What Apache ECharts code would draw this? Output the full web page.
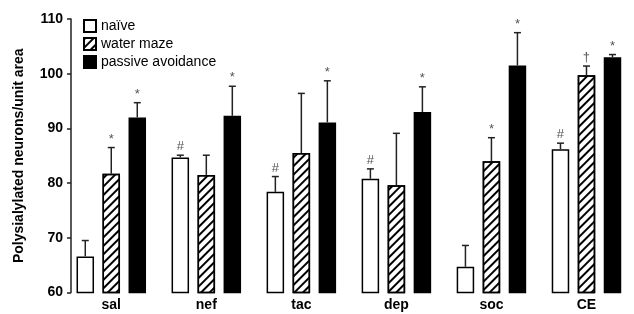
<!DOCTYPE html>
<html>
<head>
<meta charset="utf-8">
<script src="https://cdn.jsdelivr.net/npm/echarts@6/dist/echarts.min.js"></script>
<style>
  html, body { margin: 0; padding: 0; background: #fff; }
  #chart { width: 634px; height: 314px; }
</style>
</head>
<body>
<div id="chart"></div>
<script>
// groups and values
const groups = ['sal', 'nef', 'tac', 'dep', 'soc', 'CE'];
const naive = [66.6, 84.7, 78.4, 80.8, 64.7, 86.2];
const naiveErr = [2.9, 0.4, 2.8, 1.8, 3.9, 1.1];
const naiveMarks = ['', '#', '#', '#', '', '#'];
const waterMaze = [81.7, 81.5, 85.5, 79.6, 84.0, 99.7];
const waterMazeErr = [4.8, 3.6, 10.9, 9.5, 4.3, 1.7];
const waterMazeMarks = ['*', '', '', '', '*', '\u2020'];
const passive = [92.0, 92.3, 91.1, 93.0, 101.5, 103.0];
const passiveErr = [2.7, 5.4, 7.6, 4.6, 6.0, 0.5];
const passiveMarks = ['*', '*', '*', '*', '*', '*'];
const yTicks = { min: 60, max: 110, step: 10 };

const BAR_W = 17.5;
const BAR_STEP = 26; // centre-to-centre distance of bars in a group
const font = 'Liberation Sans, Arial, Helvetica, sans-serif';

const chart = echarts.init(document.getElementById('chart'), null, { renderer: 'canvas' });

function errorBars(vals, errs, marks, k) {
  return {
    type: 'custom',
    z: 5,
    silent: true,
    data: vals.map((v, i) => [i, v, v + errs[i]]),
    renderItem: (params, api) => {
      const lo = api.coord([api.value(0), api.value(1)]);
      const hi = api.coord([api.value(0), api.value(2)]);
      const x = lo[0] + (k - 1) * BAR_STEP;
      const st = { stroke: '#222', lineWidth: 1.5 };
      const children = [
        { type: 'line', shape: { x1: x, y1: lo[1], x2: x, y2: hi[1] }, style: st },
        { type: 'line', shape: { x1: x - 3.5, y1: hi[1], x2: x + 3.5, y2: hi[1] }, style: st }
      ];
      const m = marks[params.dataIndex];
      if (m) {
        children.push({
          type: 'text',
          style: {
            text: m, x: x, y: hi[1] - 2, align: 'center', verticalAlign: 'bottom',
            fill: '#555', font: '13px ' + font
          }
        });
      }
      return { type: 'group', children };
    }
  };
}

const barBase = {
  type: 'bar',
  barWidth: BAR_W,
  barGap: ((BAR_STEP - BAR_W) / BAR_W * 100).toFixed(1) + '%',
  z: 3
};

chart.setOption({
  animation: false,
  backgroundColor: '#fff',
  grid: { left: 63.75, right: -14.75, top: 19, bottom: 21.5 },
  legend: {
    orient: 'vertical',
    left: 78,
    top: 14,
    icon: 'rect',
    itemWidth: 12,
    itemHeight: 12,
    itemGap: 4,
    textStyle: { fontFamily: font, fontSize: 14, color: '#000', padding: [0, 0, 0, 0] },
    data: ['na\u00efve', 'water maze', 'passive avoidance']
  },
  xAxis: {
    type: 'category',
    data: groups,
    axisLine: { show: false },
    axisTick: { show: false },
    axisLabel: { fontFamily: font, fontWeight: 'bold', fontSize: 14, color: '#000', margin: 6 }
  },
  yAxis: {
    type: 'value',
    min: yTicks.min,
    max: yTicks.max,
    interval: yTicks.step,
    offset: -7.25,
    name: 'Polysialylated neurons/unit area',
    nameLocation: 'middle',
    nameGap: 45,
    nameTextStyle: { fontFamily: font, fontWeight: 'bold', fontSize: 14, color: '#000' },
    axisLine: { show: true, lineStyle: { color: '#222', width: 1.5 } },
    axisTick: { show: true, length: 4, lineStyle: { color: '#222', width: 1.5 } },
    splitLine: { show: false },
    axisLabel: { fontFamily: font, fontWeight: 'bold', fontSize: 14, color: '#000', margin: 8 }
  },
  series: [
    Object.assign({}, barBase, {
      name: 'na\u00efve', data: naive,
      itemStyle: { color: '#fff', borderColor: '#000', borderWidth: 1.5 }
    }),
    Object.assign({}, barBase, {
      name: 'water maze', data: waterMaze,
      itemStyle: {
        color: '#fff', borderColor: '#000', borderWidth: 1.5,
        decal: {
          symbol: 'rect', symbolSize: 1, color: '#000',
          dashArrayX: [1, 0], dashArrayY: [1.2, 3.2], rotation: -Math.PI / 4
        }
      }
    }),
    Object.assign({}, barBase, {
      name: 'passive avoidance', data: passive,
      itemStyle: { color: '#000', borderColor: '#000', borderWidth: 1.5 }
    }),
    errorBars(naive, naiveErr, naiveMarks, 0),
    errorBars(waterMaze, waterMazeErr, waterMazeMarks, 1),
    errorBars(passive, passiveErr, passiveMarks, 2)
  ]
});
</script>
</body>
</html>
